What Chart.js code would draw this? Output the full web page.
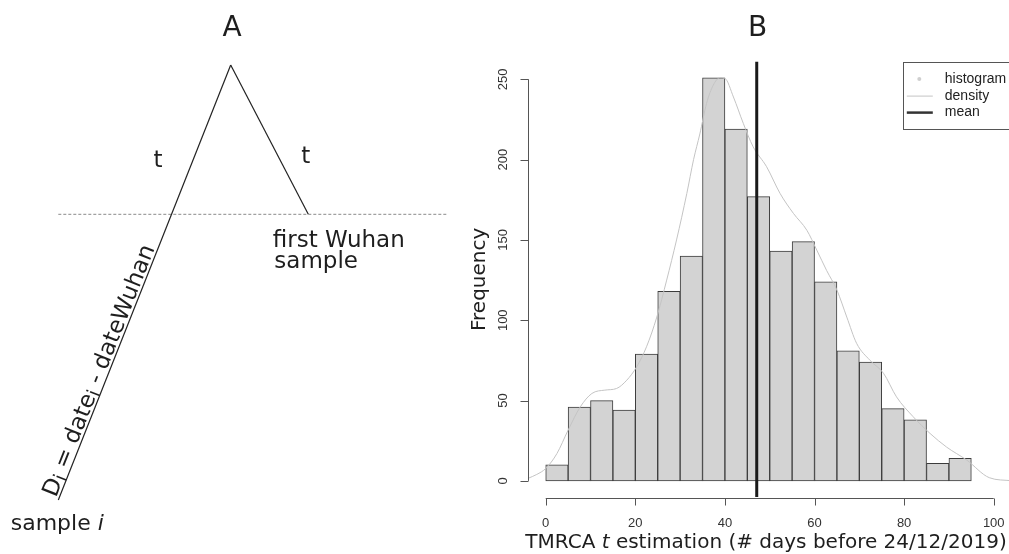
<!DOCTYPE html>
<html>
<head>
<meta charset="utf-8">
<script src="https://cdn.jsdelivr.net/npm/chart.js@4.4.1/dist/chart.umd.min.js"></script>
<style>
html, body { margin: 0; padding: 0; background: #fff; overflow: hidden; }
#wrap { position: relative; width: 1009px; height: 554px; }
canvas { position: absolute; top: 0; left: 0; }
</style>
</head>
<body>
<div id="wrap">
<canvas id="chartB" width="1009" height="554"></canvas>
<canvas id="chartA" width="460" height="554"></canvas>
</div>
<script>
// ---- panel B: histogram of TMRCA estimates ----
var binCenters = [2.5, 7.5, 12.5, 17.5, 22.5, 27.5, 32.5, 37.5, 42.5, 47.5,
  52.5, 57.5, 62.5, 67.5, 72.5, 77.5, 82.5, 87.5, 92.5];
var counts = [10, 46, 50, 44, 79, 118, 140, 251, 219, 177,
  143, 149, 124, 81, 74, 45, 38, 11, 14];
var densityX = [-4, -2, 0, 2.5, 5, 7.7, 10.3, 13.2, 15.8, 18.1, 20.3, 22.5, 24.8,
  27, 29.2, 31.5, 33, 34.4, 35.9, 37.4, 38.9, 40, 41.9, 44.1, 46.3, 49.3, 52.3,
  55.3, 58.3, 60.5, 62.7, 65, 67.2, 69.4, 72.4, 75.4, 78.3, 82, 85.8, 89.5, 94,
  99, 104];
var densityY = [1.5, 4, 7.7, 17, 31.6, 46, 54.4, 56.5, 57.5, 62.7, 71, 83.5, 102,
  125, 150, 179, 200, 216, 235, 246.4, 251, 250.6, 239, 222.6, 208, 195.6, 179,
  166.5, 156, 143.7, 131, 118.8, 102, 85.6, 75, 67, 52.3, 40, 29.5, 21, 12.9,
  2, 0.1];
var meanDays = 47.1;
var xLimits = [-4, 103.41];
var yLimits = [-10.04, 261.04];
var xTicks = [0, 20, 40, 60, 80, 100];
var yTicks = [0, 50, 100, 150, 200, 250];
var legendLabels = ["histogram", "density", "mean"];

// ---- panel A: schematic tree (drawing units, y grows downwards) ----
var apex = [230.7, 65];
var sampleI = [58.3, 500];
var wuhanSample = [308.3, 214.3];
var wuhanLevelX = [58.3, 448.3];
var wuhanLevelY = [214.3, 214.3];
var textA = [
  { t: "A", x: 232, y: 36, size: 28, align: "center" },
  { t: "t", x: 158, y: 166.5, size: 23, align: "center" },
  { t: "t", x: 305.7, y: 162.5, size: 23, align: "center" },
  { t: "first Wuhan", x: 272.7, y: 247, size: 23, align: "left" },
  { t: "sample", x: 274.3, y: 268, size: 23, align: "left" }
];

function pts(xs, ys) {
  return xs.map(function (x, i) { return { x: x, y: ys[i] }; });
}

var SANS = "'DejaVu Sans', sans-serif";
var HELV = "'Liberation Sans', Arial, sans-serif";

function drawRuns(ctx, runs, x, y) {
  runs.forEach(function (r) {
    ctx.font = r.font;
    ctx.fillText(r.t, x, y + (r.dy || 0));
    x += ctx.measureText(r.t).width;
  });
}
function runsWidth(ctx, runs) {
  var w = 0;
  runs.forEach(function (r) { ctx.font = r.font; w += ctx.measureText(r.t).width; });
  return w;
}

var labelsA = {
  id: "labelsA",
  afterDatasetsDraw: function (chart) {
    var ctx = chart.ctx, sx = chart.scales.x, sy = chart.scales.y;
    ctx.save();
    ctx.fillStyle = "#1e1e1e";
    ctx.textBaseline = "alphabetic";
    textA.forEach(function (l) {
      ctx.font = l.size + "px " + SANS;
      ctx.textAlign = l.align;
      ctx.fillText(l.t, sx.getPixelForValue(l.x), sy.getPixelForValue(l.y));
    });
    // "sample i"
    ctx.textAlign = "left";
    drawRuns(ctx, [
      { t: "sample ", font: "22px " + SANS },
      { t: "i", font: "italic 22px " + SANS }
    ], sx.getPixelForValue(10.7), sy.getPixelForValue(530));

    // label along the left branch
    var x0 = sx.getPixelForValue(sampleI[0]), y0 = sy.getPixelForValue(sampleI[1]);
    var x1 = sx.getPixelForValue(apex[0]), y1 = sy.getPixelForValue(apex[1]);
    var ang = Math.atan2(y1 - y0, x1 - x0);
    var ux = Math.cos(ang), uy = Math.sin(ang);
    var nx = Math.sin(ang), ny = -Math.cos(ang);
    ctx.translate(x0 + ux * 1 + nx * 3, y0 + uy * 1 + ny * 3);
    ctx.rotate(ang);
    drawRuns(ctx, [
      { t: "D", font: "23px " + SANS },
      { t: "i", font: "19px " + SANS, dy: 3 },
      { t: " = date", font: "23px " + SANS },
      { t: "i", font: "19px " + SANS, dy: 3 },
      { t: " - dateWuhan", font: "23px " + SANS }
    ], 0, 0);
    ctx.restore();
  }
};

var chartA = new Chart(document.getElementById("chartA"), {
  type: "scatter",
  data: {
    datasets: [
      { data: pts([sampleI[0], apex[0]], [sampleI[1], apex[1]]), showLine: true,
        borderColor: "#222", borderWidth: 1.2, pointRadius: 0 },
      { data: pts([apex[0], wuhanSample[0]], [apex[1], wuhanSample[1]]), showLine: true,
        borderColor: "#222", borderWidth: 1.2, pointRadius: 0 },
      { data: pts(wuhanLevelX, wuhanLevelY), showLine: true,
        borderColor: "#8a8a8a", borderWidth: 1, borderDash: [3, 2], pointRadius: 0 }
    ]
  },
  options: {
    responsive: false,
    animation: false,
    layout: { padding: 0 },
    plugins: { legend: { display: false }, tooltip: { enabled: false } },
    scales: {
      x: { type: "linear", min: 0, max: 460, display: false },
      y: { type: "linear", min: 0, max: 554, reverse: true, display: false }
    }
  },
  plugins: [labelsA]
});

// R-like axes, titles and legend for panel B
var rAxes = {
  id: "rAxes",
  afterDatasetsDraw: function (chart) {
    var ctx = chart.ctx, sx = chart.scales.x, sy = chart.scales.y, a = chart.chartArea;
    ctx.save();
    ctx.strokeStyle = "#555";
    ctx.lineWidth = 1;
    ctx.fillStyle = "#333";

    // y axis
    var ax = Math.round(a.left) + 0.5;
    ctx.beginPath();
    ctx.moveTo(ax, sy.getPixelForValue(yTicks[0]));
    ctx.lineTo(ax, sy.getPixelForValue(yTicks[yTicks.length - 1]));
    yTicks.forEach(function (v) {
      var p = Math.round(sy.getPixelForValue(v)) + 0.5;
      ctx.moveTo(ax, p);
      ctx.lineTo(ax - 8, p);
    });
    ctx.stroke();
    ctx.font = "13px " + HELV;
    ctx.textAlign = "center";
    ctx.textBaseline = "middle";
    yTicks.forEach(function (v) {
      ctx.save();
      ctx.translate(a.left - 24, sy.getPixelForValue(v));
      ctx.rotate(-Math.PI / 2);
      ctx.fillText(String(v), 0, 0);
      ctx.restore();
    });

    // x axis
    var ay = Math.round(a.bottom) + 1.5;
    ctx.beginPath();
    ctx.moveTo(sx.getPixelForValue(xTicks[0]), ay);
    ctx.lineTo(sx.getPixelForValue(xTicks[xTicks.length - 1]), ay);
    xTicks.forEach(function (v) {
      var p = Math.round(sx.getPixelForValue(v)) + 0.5;
      ctx.moveTo(p, ay);
      ctx.lineTo(p, ay + 7);
    });
    ctx.stroke();
    xTicks.forEach(function (v) {
      ctx.fillText(String(v), sx.getPixelForValue(v), ay + 25);
    });

    // titles
    ctx.fillStyle = "#1e1e1e";
    ctx.font = "28px " + SANS;
    ctx.textBaseline = "alphabetic";
    ctx.fillText("B", 757.7, 36);
    ctx.save();
    ctx.font = "20px " + SANS;
    ctx.translate(485, (a.top + a.bottom) / 2);
    ctx.rotate(-Math.PI / 2);
    ctx.fillText("Frequency", 0, 0);
    ctx.restore();
    var runs = [
      { t: "TMRCA ", font: "20px " + SANS },
      { t: "t", font: "italic 20px " + SANS },
      { t: " estimation (# days before 24/12/2019)", font: "20px " + SANS }
    ];
    ctx.textAlign = "left";
    var w = runsWidth(ctx, runs);
    drawRuns(ctx, runs, 766 - w / 2, 548);

    // legend
    var lx = a.left + 375, ly = a.top + 0.5;
    ctx.strokeStyle = "#555";
    ctx.lineWidth = 1;
    ctx.strokeRect(Math.round(lx) + 0.5, Math.round(ly) + 0.5, 120, 67);
    var rows = [ly + 17, ly + 34, ly + 50.5];
    ctx.fillStyle = "#cfcfcf";
    ctx.beginPath();
    ctx.arc(lx + 16.5, rows[0], 2, 0, Math.PI * 2);
    ctx.fill();
    ctx.strokeStyle = "#c4c4c4";
    ctx.beginPath();
    ctx.moveTo(lx + 4, rows[1]);
    ctx.lineTo(lx + 30, rows[1]);
    ctx.stroke();
    ctx.strokeStyle = "#333";
    ctx.lineWidth = 2.5;
    ctx.beginPath();
    ctx.moveTo(lx + 4, rows[2]);
    ctx.lineTo(lx + 30, rows[2]);
    ctx.stroke();
    ctx.fillStyle = "#222";
    ctx.font = "14px " + HELV;
    ctx.textBaseline = "middle";
    legendLabels.forEach(function (t, i) {
      ctx.fillText(t, lx + 42, rows[i]);
    });
    ctx.restore();
  }
};

var chartB = new Chart(document.getElementById("chartB"), {
  type: "bar",
  data: {
    datasets: [
      { type: "line", label: "mean", data: pts([meanDays, meanDays], yLimits),
        borderColor: "#1a1a1a", borderWidth: 3, pointRadius: 0, order: 0 },
      { type: "line", label: "density", data: pts(densityX, densityY),
        borderColor: "#c4c4c4", borderWidth: 1, pointRadius: 0,
        cubicInterpolationMode: "monotone", order: 1 },
      { type: "bar", label: "histogram", data: pts(binCenters, counts),
        backgroundColor: "#d3d3d3", borderColor: "#3c3c3c", borderWidth: 1,
        borderSkipped: false, barPercentage: 1, categoryPercentage: 1, order: 2 }
    ]
  },
  options: {
    responsive: false,
    animation: false,
    layout: { padding: { left: 527.8, top: 61.6, right: 0, bottom: 57 } },
    plugins: { legend: { display: false }, tooltip: { enabled: false } },
    scales: {
      x: { type: "linear", min: xLimits[0], max: xLimits[1], offset: false, display: false },
      y: { type: "linear", min: yLimits[0], max: yLimits[1], display: false }
    }
  },
  plugins: [rAxes]
});
</script>
</body>
</html>
